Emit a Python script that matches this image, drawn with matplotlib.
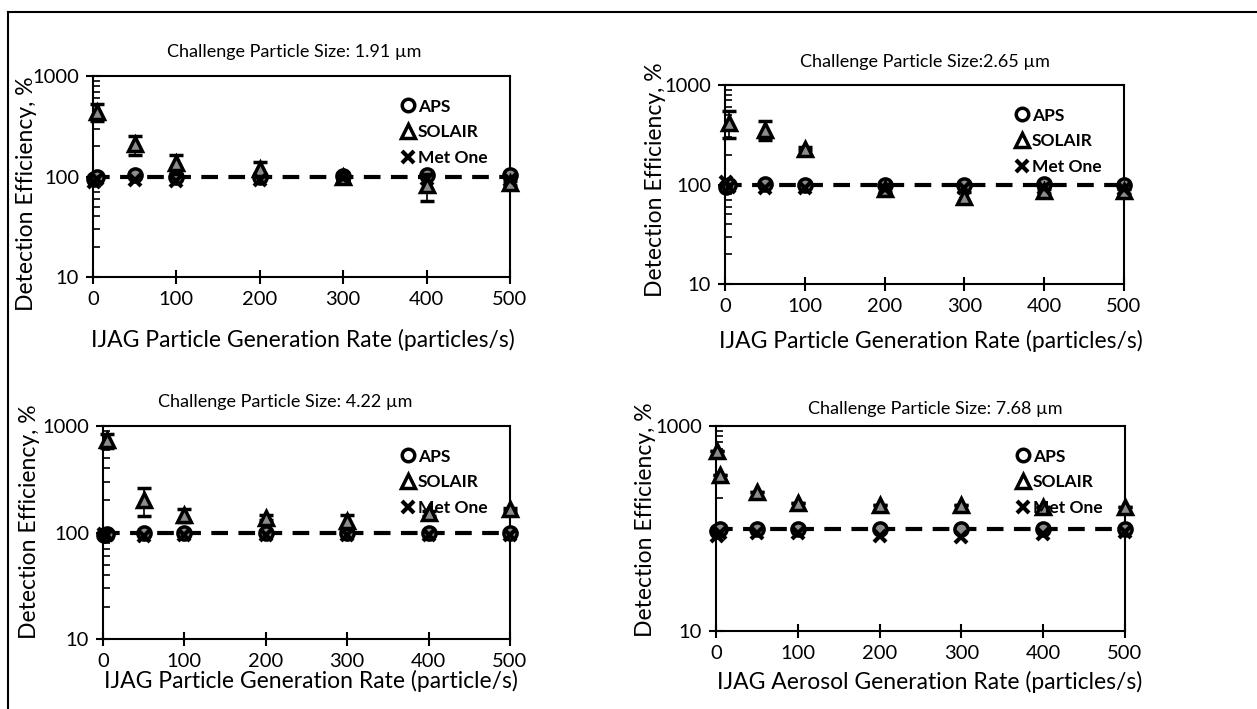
import numpy as np
import matplotlib
matplotlib.use("Agg")
import matplotlib.pyplot as plt
from matplotlib.lines import Line2D
from matplotlib.ticker import FixedLocator, NullFormatter

plt.rcParams['font.family'] = ['Lato', 'DejaVu Sans']

W, H = 1257, 709

# generation rates (particles/s)
rate = [1, 5, 50, 100, 200, 300, 400, 500]

# ---- 1.91 um ----
aps_191 = [95, 100, 103, 100, 100, 102, 103, 103]
sol_191 = [np.nan, 440, 210, 135, 120, 100, 82, 86]
sol_191_err = [0, 85, 45, 30, 18, 5, 25, 5]
met_191 = [88, 95, 92, 90, 92, 97, 95, 92]

# ---- 2.65 um ----
aps_265 = [95, 100, 102, 100, 100, 100, 102, 100]
sol_265 = [np.nan, 418, 357, 230, 90, 75, 86, 86]
sol_265_err = [0, 125, 80, 10, 5, 10, 5, 5]
met_265 = [105, 95, 93, 92, 90, 92, 92, 90]

# ---- 4.22 um ----
aps_422 = [95, 97, 100, 100, 98, 100, 100, 100]
sol_422 = [np.nan, 734, 202, 146, 138, 127, 152, 165]
sol_422_err = [0, 110, 60, 20, 8, 18, 8, 5]
met_422 = [97, 95, 92, 95, 95, 95, 95, 95]

# ---- 7.68 um ----
aps_768 = [95, 98, 100, 100, 100, 100, 100, 100]
sol_768 = [565, 329, 226, 178, 171, 171, 161, 161]
sol_768_err = [0, 0, 0, 0, 0, 0, 0, 0]
met_768 = [85, 90, 90, 90, 85, 83, 88, 92]

titles = ["Challenge Particle Size: 1.91 \u00b5m", "Challenge Particle Size:2.65 \u00b5m",
          "Challenge Particle Size: 4.22 \u00b5m", "Challenge Particle Size: 7.68 \u00b5m"]
xlabels = ["IJAG Particle Generation Rate (particles/s)", "IJAG Particle Generation Rate (particles/s)",
           "IJAG Particle Generation Rate (particle/s)", "IJAG Aerosol Generation Rate (particles/s)"]

panels = [(aps_191, sol_191, sol_191_err, met_191),
          (aps_265, sol_265, sol_265_err, met_265),
          (aps_422, sol_422, sol_422_err, met_422),
          (aps_768, sol_768, sol_768_err, met_768)]

# axes boxes in pixels: left, top, right, bottom
boxes = [(93, 76, 510, 277), (725, 85, 1124, 284), (103, 426, 510, 639), (716, 426, 1125, 631)]
title_xy = [(294, 52), (925, 62), (285, 402), (935, 409)]
xlabel_xy = [(303, 340), (931, 341), (311, 681), (930, 682)]
ylabel_xy = [(27, 194), (655, 180), (30, 522), (646, 520)]

FILL = '#8c8c8c'


def px(x, y):
    return x / W, 1 - y / H


fig = plt.figure(figsize=(W / 100, H / 100), dpi=100)

legend_handles = [
    Line2D([], [], ls='none', marker='o', ms=9, mfc='white', mec='black', mew=2.5),
    Line2D([], [], ls='none', marker='^', ms=10, mfc='white', mec='black', mew=2.5),
    Line2D([], [], ls='none', marker='x', ms=8.5, color='black', mew=3),
]
legend_labels = ['APS', 'SOLAIR', 'Met One']

for i, (aps, sol, sol_err, met) in enumerate(panels):
    l, t, r, b = boxes[i]
    ax = fig.add_axes([l / W, 1 - b / H, (r - l) / W, (b - t) / H])
    ax.set_yscale('log')
    ax.set_xlim(0, 500)
    ax.set_ylim(10, 1000)

    ax.axhline(100, color='black', lw=3, ls=(0, (4, 2.5)), zorder=1)

    ax.plot(rate, aps, 'o', ms=9.5, mfc=FILL, mec='black', mew=2.5,
            clip_on=False, zorder=3)
    ax.errorbar(rate, sol, yerr=sol_err, fmt='^', ms=10.5, mfc=FILL, mec='black', mew=2.5,
                ecolor='black', elinewidth=1.2, capsize=5, capthick=1.2,
                clip_on=False, zorder=4)
    ax.plot(rate, met, 'x', ms=8.5, color='black', mew=3,
            clip_on=False, zorder=5)

    ax.set_xticks([0, 100, 200, 300, 400, 500])
    if i == 3:
        ax.yaxis.set_major_locator(FixedLocator([10, 1000]))
        ax.yaxis.set_minor_locator(FixedLocator([200, 600, 700, 800, 900]))
    else:
        ax.yaxis.set_major_locator(FixedLocator([10, 100, 1000]))
        ax.yaxis.set_minor_locator(FixedLocator([20, 30, 40, 50, 60, 70, 80, 90,
                                                 200, 300, 400, 500, 600, 700, 800, 900]))
    ax.yaxis.set_minor_formatter(NullFormatter())
    ax.set_yticklabels(['10', '100', '1000'] if i != 3 else ['10', '1000'])
    ax.tick_params(axis='both', which='major', direction='inout', length=10, width=1.5,
                   labelsize=14.5, pad=5)
    ax.tick_params(axis='y', which='minor', direction='in', length=5, width=1.2)
    for sp in ax.spines.values():
        sp.set_linewidth(1.5)

    ax.legend(legend_handles, legend_labels, loc='upper right', frameon=False,
              handletextpad=0.05, handlelength=1.0, labelspacing=0.55, borderaxespad=0.9,
              prop={'weight': 'bold', 'size': 12.5})

    tx, ty = title_xy[i]
    fig.text(*px(tx, ty), titles[i], ha='center', va='center', fontsize=13)
    lx, ly = xlabel_xy[i]
    fig.text(*px(lx, ly), xlabels[i], ha='center', va='center', fontsize=16.5)
    yx, yy = ylabel_xy[i]
    fig.text(*px(yx, yy), "Detection Efficiency, %", rotation=90,
             ha='center', va='center', fontsize=16.5)

# outer frame lines
fig.add_artist(Line2D([8 / W, 1], [1 - 12 / H, 1 - 12 / H], color='black', lw=1.5))
fig.add_artist(Line2D([8 / W, 8 / W], [0, 1 - 12 / H], color='black', lw=1.5))

fig.savefig("out.png", dpi=100)
